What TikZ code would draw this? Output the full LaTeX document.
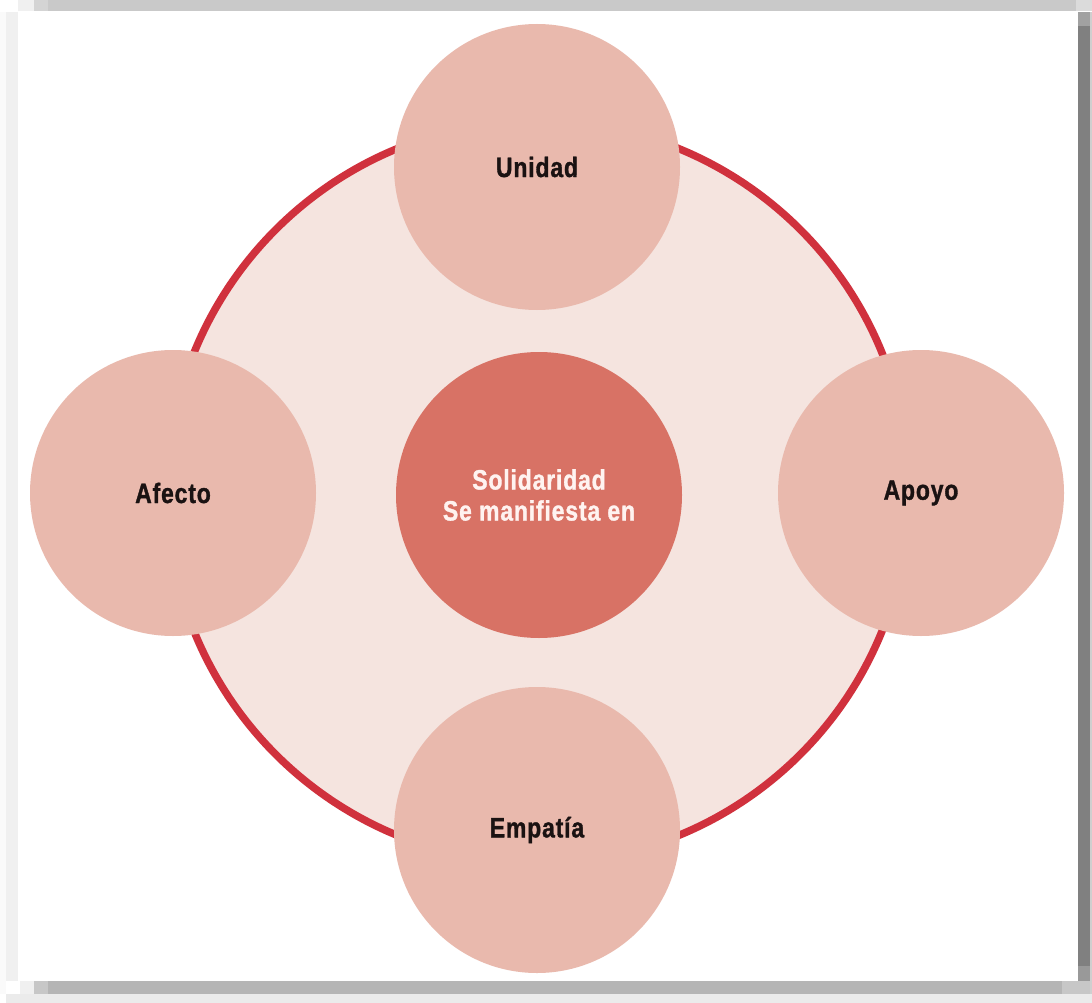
\documentclass[tikz,border=0pt]{standalone}
\usepackage{fontspec}
\setmainfont[FakeStretch=0.82,LetterSpace=3,BoldFeatures={FakeBold=1.2}]{Liberation Sans}
\definecolor{ringred}{HTML}{D0313D}
\definecolor{bigfill}{HTML}{F5E4DF}
\definecolor{smallfill}{HTML}{E9B9AD}
\definecolor{centerfill}{HTML}{D87265}
\definecolor{txtdark}{HTML}{1A1212}
\definecolor{txtlight}{HTML}{FFF3F0}
\tikzset{
  petal/.style={circle, fill=smallfill, minimum size=286pt, inner sep=0pt, font=\fontsize{28}{31}\selectfont\bfseries, text=txtdark},
  hub/.style={circle, fill=centerfill, minimum size=286pt, inner sep=0pt, font=\fontsize{28}{31}\selectfont\bfseries, text=txtlight, align=center},
  ring/.style={circle, draw=ringred, line width=7.5pt, fill=bigfill, minimum size=742pt, inner sep=0pt}
}
\begin{document}
\begin{tikzpicture}[x=1pt,y=-1pt]
\useasboundingbox (0,0) rectangle (1092,1003);
% frame and shadows
\fill[white] (0,0) rectangle (1092,1003);
\fill[fill=black!2] (0,12) rectangle (6,994);
\fill[fill=black!6] (6,12) rectangle (18,981);
\fill[fill=black!6] (18,0) rectangle (34,11);
\fill[fill=black!17] (34,0) rectangle (48,11);
\fill[fill=black!21] (48,0) rectangle (1076,11);
\fill[fill=black!14] (1076,0) rectangle (1092,11);
\fill[fill=black!37] (1078,12) rectangle (1090,26);
\fill[fill=black!50] (1078,26) rectangle (1090,966);
\fill[fill=black!40] (1078,966) rectangle (1090,981);
\fill[fill=black!19] (1090,12) rectangle (1092,994);
\fill[fill=black!6] (20,981) rectangle (34,994);
\fill[fill=black!22] (34,981) rectangle (48,994);
\fill[fill=black!29] (48,981) rectangle (1062,994);
\fill[fill=black!22] (1062,981) rectangle (1090,994);
\fill[fill=black!8] (6,994) rectangle (1092,1003);
\fill[white] (18,12) rectangle (1078,981);
% diagram
\node[ring] (big) at (538,492) {};
\node[petal] (unidad) at (537,167) {Unidad};
\node[petal] (afecto) at (173,493) {Afecto};
\node[petal] (apoyo) at (921,493) {Apoyo};
\node[petal] (empatia) at (537,830) {Empatía};
\node[hub] (sol) at (539,495) {Solidaridad\\Se manifiesta en};
\end{tikzpicture}
\end{document}
